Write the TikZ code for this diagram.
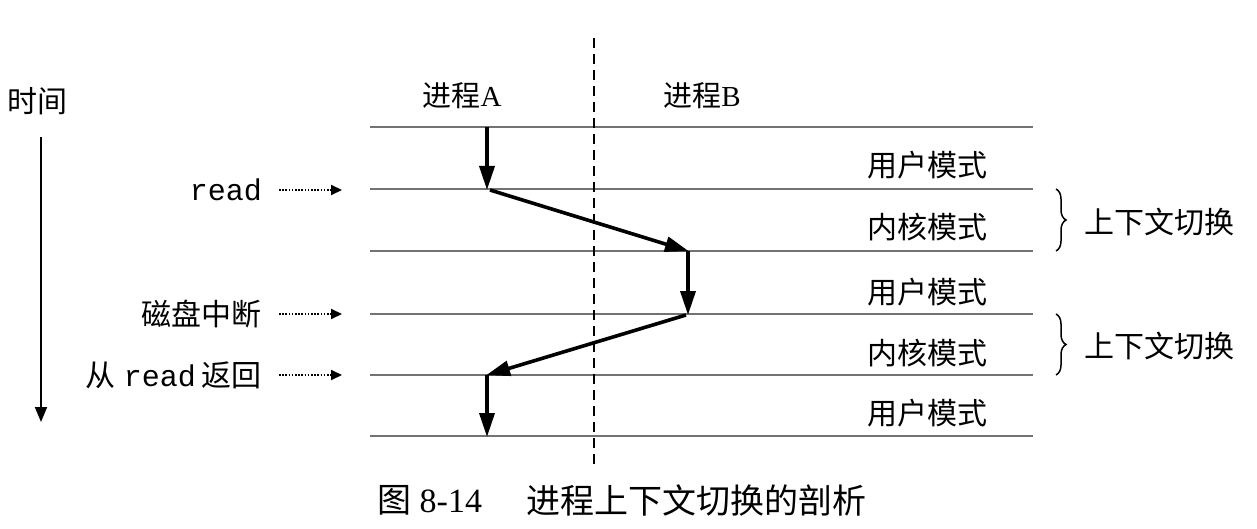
\documentclass[tikz,border=0pt]{standalone}
\usepackage{fontspec}
\setmainfont{Liberation Serif}
\setmonofont{Liberation Mono}
\newfontfamily\cjk{Noto Sans CJK SC}
\usetikzlibrary{arrows.meta,decorations.pathreplacing}
\begin{document}
\begin{tikzpicture}[x=1pt,y=-1pt,
  level/.style={draw=black!55,line width=2.6pt},
  flow/.style={line width=3.6pt,-{Triangle[length=24pt,width=15pt]},shorten >=-1pt},
  ptr/.style={line width=2pt,dash pattern=on 1.6pt off 1.6pt,-{Triangle[length=11pt,width=10pt]}},
  timeline/.style={line width=1.8pt,-{Triangle[length=15pt,width=12pt]}},
  lbl/.style={font=\cjk\fontsize{30}{32}\selectfont,inner sep=0pt},
  proc/.style={font=\fontsize{29}{32}\selectfont,inner sep=0pt},
  evt/.style={font=\fontsize{30}{32}\selectfont,inner sep=0pt,anchor=east},
  brc/.style={decorate,decoration={brace,amplitude=10pt},line width=1.5pt},
  captext/.style={font=\fontsize{34}{36}\selectfont,inner sep=0pt,anchor=west}
]
\useasboundingbox (0,0) rectangle (1257,529);
\fill[white] (0,0) rectangle (1257,529);

% horizontal levels
\foreach \i/\yy in {0/127,1/189,2/251,3/314,4/375,5/436}{
  \coordinate (l\i s) at (370,\yy);
  \coordinate (l\i e) at (1033,\yy);
  \draw[level] (l\i s) -- (l\i e);
}

% dashed separator
\coordinate (dtop) at (594,38);
\coordinate (dbot) at (594,465);
\draw[line width=1.6pt,dash pattern=on 10pt off 6pt] (dtop) -- (dbot);

% process labels
\node[proc] (pa) at (462,96) {{\cjk 进程}A};
\node[proc] (pb) at (702,96) {{\cjk 进程}B};

% flow arrows
\coordinate (a0) at (487,127);
\coordinate (a1) at (487,189);
\coordinate (a1b) at (490,190);
\coordinate (b1) at (688,251);
\coordinate (b2) at (688,314);
\coordinate (b2b) at (686,315);
\coordinate (a2) at (487,375);
\coordinate (a3) at (487,436);
\draw[flow] (a0) -- (a1);
\draw[flow] (a1b) -- (b1);
\draw[flow] (b1) -- (b2);
\draw[flow] (b2b) -- (a2);
\draw[flow] (a2) -- (a3);

% mode labels
\node[lbl] (m1) at (927,165) {用户模式};
\node[lbl] (m2) at (927,227) {内核模式};
\node[lbl] (m3) at (927,292) {用户模式};
\node[lbl] (m4) at (927,353) {内核模式};
\node[lbl] (m5) at (927,413) {用户模式};

% braces
\coordinate (br1t) at (1056,189);
\coordinate (br1b) at (1056,251);
\coordinate (br2t) at (1056,314);
\coordinate (br2b) at (1056,375);
\draw[brc] (br1t) -- (br1b);
\draw[brc] (br2t) -- (br2b);
\node[lbl,anchor=west] (cs1) at (1084,222) {上下文切换};
\node[lbl,anchor=west] (cs2) at (1084,346) {上下文切换};

% time
\node[lbl] (time) at (38,101) {时间};
\coordinate (t0) at (41,137);
\coordinate (t1) at (41,422);
\draw[timeline] (t0) -- (t1);

% events
\node[evt] (e1) at (262,190) {\ttfamily read};
\node[evt] (e2) at (262,314) {\cjk 磁盘中断};
\node[evt] (e3) at (262,375) {{\cjk 从}\hspace{8pt}{\ttfamily read}\hspace{6pt}{\cjk 返回}};
\coordinate (e1t) at (342,190);
\coordinate (e2t) at (342,314);
\coordinate (e3t) at (342,375);
\draw[ptr] ([xshift=17pt]e1.east) -- (e1t);
\draw[ptr] ([xshift=17pt]e2.east) -- (e2t);
\draw[ptr] ([xshift=17pt]e3.east) -- (e3t);

% caption
\node[captext] (c1) at (377,500) {{\cjk 图} 8-14};
\node[captext] (c2) at (526,500) {\cjk 进程上下文切换的剖析};
\end{tikzpicture}
\end{document}
